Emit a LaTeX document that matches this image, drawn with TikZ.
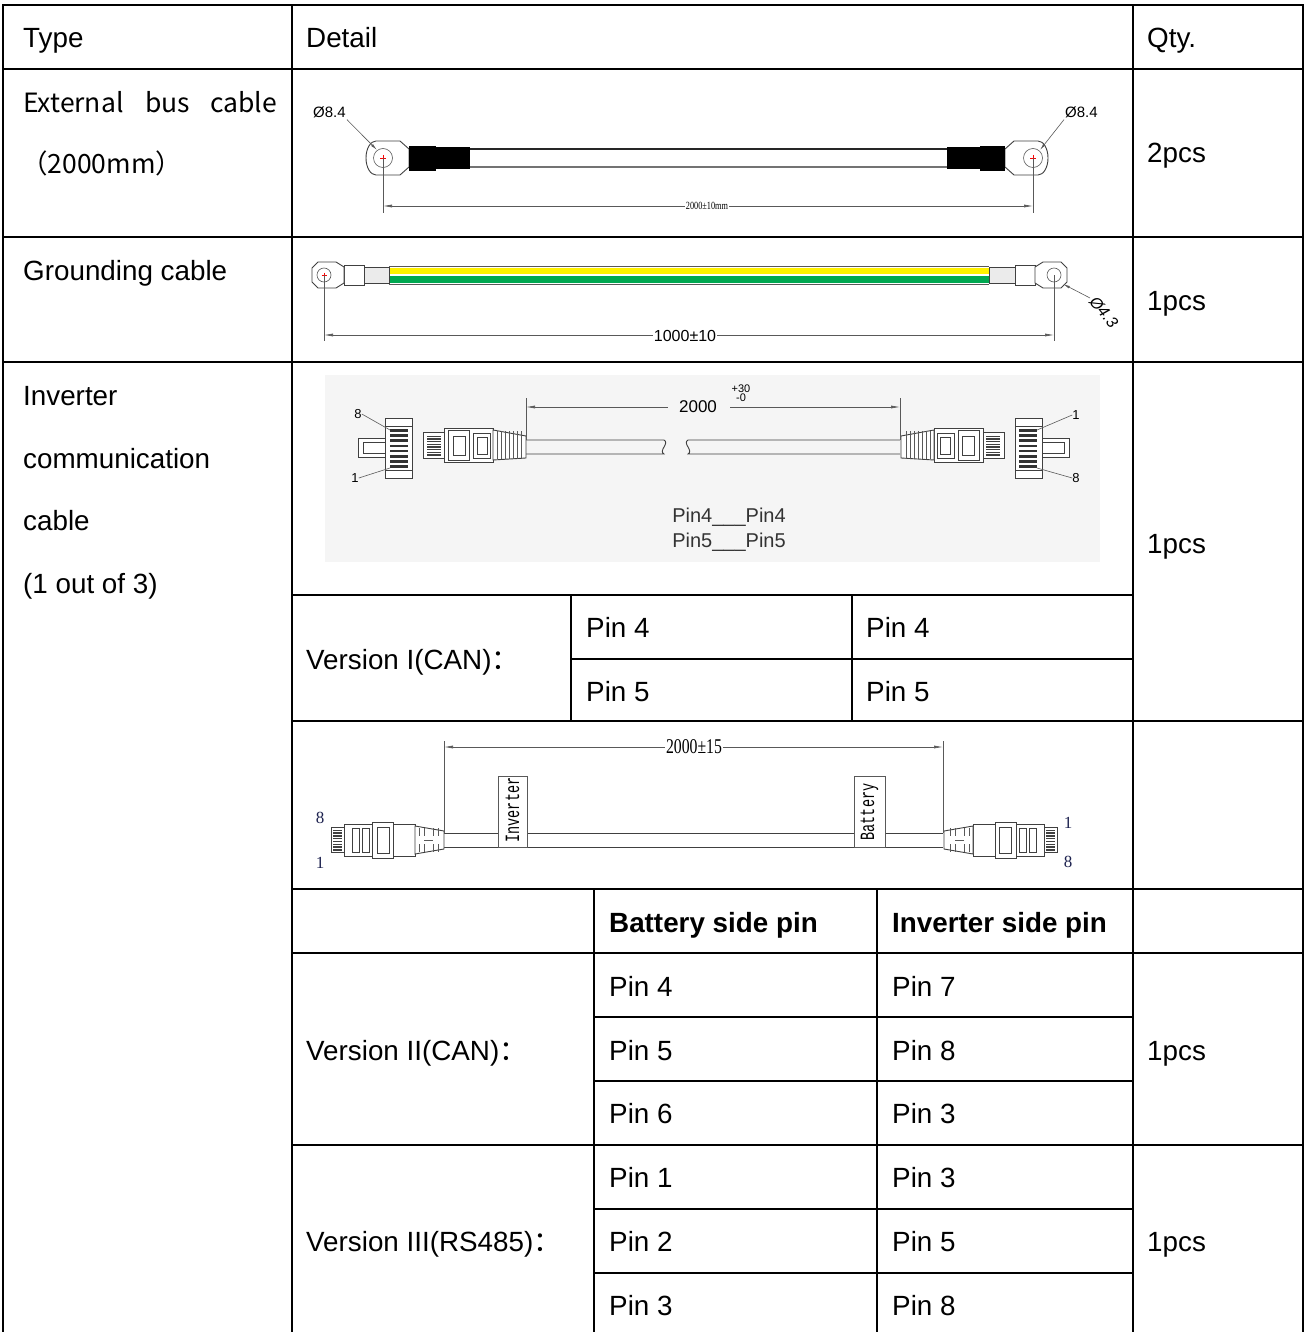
\documentclass[tikz,border=0pt]{standalone}
\usepackage{fontspec}
\setmainfont{Liberation Sans}
\newfontfamily\cjkfont{Noto Sans CJK SC}
\newfontfamily\serifc{Liberation Serif}
\newfontfamily\monof{Liberation Mono}
\usetikzlibrary{arrows.meta}
\definecolor{gyellow}{RGB}{255,242,0}
\definecolor{ggreen}{RGB}{0,168,80}
\definecolor{pinblue}{RGB}{30,35,80}
\tikzset{
  grid/.style={line width=2pt, line cap=rect},
  cell/.style={anchor=base west, inner sep=0pt, font=\fontsize{27.8}{33}\selectfont},
  cellb/.style={anchor=base west, inner sep=0pt, font=\fontsize{27.8}{33}\selectfont\bfseries},
  cjkcell/.style={anchor=base west, inner sep=0pt, font=\cjkfont\fontsize{26.5}{30}\selectfont},
  dwg/.style={draw=black!75, line width=0.9pt},
  thinl/.style={draw=black!65, line width=0.6pt},
  dimarrow/.style={thinl, {Latex[length=9pt,width=3pt]}-{Latex[length=9pt,width=3pt]}},
  leadarrow/.style={thinl, -{Latex[length=7pt,width=2.6pt]}},
  smalllab/.style={inner sep=1pt, font=\fontsize{15}{17}\selectfont},
  pinnum/.style={inner sep=0pt, text=pinblue, font=\serifc\fontsize{17}{19}\selectfont},
}
\begin{document}
\begin{tikzpicture}[x=1pt,y=-1pt]
\useasboundingbox (0,0) rectangle (1306,1332);
\fill[white] (0,0) rectangle (1306,1332);

% ================= picture 1 : external bus cable =================
\begin{scope}
  \draw[dwg, fill=white] (409,149) -- (400,141) -- (376,141)
     arc[start angle=270, end angle=90, x radius=10, y radius=17] -- (400,175) -- (409,167) -- cycle;
  \draw[dwg, fill=white] (1005,149) -- (1014,141) -- (1038,141)
     arc[start angle=270, end angle=450, x radius=10, y radius=17] -- (1014,175) -- (1005,167) -- cycle;
  \draw[thinl] (383,158) circle[radius=9.5];
  \draw[thinl] (1033,158) circle[radius=9.5];
  \draw[red, line width=0.5pt] (380,158)--(386,158) (383,155)--(383,161);
  \draw[red, line width=0.5pt] (1030,158)--(1036,158) (1033,155)--(1033,161);
  \fill[black] (409,146) rectangle (436,171);
  \fill[black] (436,147) rectangle (470,169);
  \fill[black] (947,147) rectangle (980,169);
  \fill[black] (980,146) rectangle (1005,171);
  \draw[line width=1.2pt, black!85] (470,149) -- (947,149);
  \draw[line width=1.2pt, black!55] (470,167) -- (947,167);
  \node[smalllab, anchor=base west] (d84a) at (312,118) {Ø8.4};
  \node[smalllab, anchor=base west] (d84b) at (1064,118) {Ø8.4};
  \coordinate (la) at (377,150);
  \coordinate (lb) at (1040,150);
  \draw[leadarrow] (d84a.south east) -- (la);
  \draw[leadarrow] (d84b.south west) -- (lb);
  \coordinate (e1a) at (383,158); \coordinate (e1b) at (383,213);
  \coordinate (e2a) at (1033,158); \coordinate (e2b) at (1033,213);
  \draw[thinl] (e1a) -- (e1b);
  \draw[thinl] (e2a) -- (e2b);
  \coordinate (d1a) at (383,206); \coordinate (d1b) at (1033,206);
  \draw[dimarrow] (d1a) -- (d1b);
  \node[fill=white, inner sep=1pt, xscale=0.75, font=\serifc\fontsize{11}{12}\selectfont] (dim1) at (707,206) {2000±10mm};
\end{scope}

% ================= picture 2 : grounding cable =================
\begin{scope}
  \fill[gyellow] (389,267.5) rectangle (989,274);
  \fill[ggreen] (389,276) rectangle (989,282.5);
  \draw[thinl] (389,266) -- (989,266);
  \draw[thinl] (389,284) -- (989,284);
  \draw[dwg, fill=black!8] (364,267) rectangle (389,283);
  \draw[dwg, fill=white] (344,265) rectangle (364,285);
  \draw[dwg, fill=white] (336,262) -- (318,262) -- (312,268) -- (312,282) -- (318,288) -- (336,288) -- (344,283) -- (344,267) -- cycle;
  \draw[thinl] (324,275) circle[radius=7];
  \draw[red, line width=0.5pt] (321.5,275)--(326.5,275) (324,272.5)--(324,277.5);
  \draw[dwg, fill=black!8] (989,267) rectangle (1015,283);
  \draw[dwg, fill=white] (1015,265) rectangle (1035,285);
  \draw[dwg, fill=white] (1043,262) -- (1061,262) -- (1067,268) -- (1067,282) -- (1061,288) -- (1043,288) -- (1035,283) -- (1035,267) -- cycle;
  \draw[thinl] (1054,275) circle[radius=7];
  \coordinate (g1a) at (324,275); \coordinate (g1b) at (324,341);
  \coordinate (g2a) at (1054,275); \coordinate (g2b) at (1054,341);
  \draw[thinl] (g1a) -- (g1b);
  \draw[thinl] (g2a) -- (g2b);
  \coordinate (gd1) at (324,335); \coordinate (gd2) at (1054,335);
  \draw[dimarrow] (gd1) -- (gd2);
  \node[fill=white, inner sep=1pt, font=\fontsize{16}{18}\selectfont] (dim2) at (685,336) {1000±10};
  \node[inner sep=0pt, rotate=-50, font=\itshape\fontsize{16}{18}\selectfont] (d43) at (1104,312) {Ø4.3};
  \coordinate (lc) at (1063,284);
  \coordinate (lcs) at (1090,298);
  \draw[leadarrow] (lcs) -- (lc);
\end{scope}

% ================= picture 3 : RJ45 cable (version I) =================
\begin{scope}
  \fill[black!4] (325,375) rectangle (1100,562);
  \draw[dwg] (526,440) -- (664,440) .. controls (670,443) and (658,451) .. (664,454) -- (526,454);
  \draw[dwg] (900,440) -- (688,440) .. controls (682,443) and (694,451) .. (688,454) -- (900,454);
  \foreach \sh/\sc in {0/1, 1427/-1} {
    \begin{scope}[xshift=\sh pt, xscale=\sc]
      \draw[dwg, fill=white] (358,438) rectangle (386,457);
      \draw[dwg] (363,442) rectangle (386,453);
      \draw[dwg, fill=white] (385,418) rectangle (412,478);
      \draw[dwg] (385,426) -- (412,426) (385,470) -- (412,470);
      \foreach \i in {0,...,7} \fill[black!80] (390,429+5.2*\i) rectangle (408,431.6+5.2*\i);
      \draw[dwg, fill=white] (423,432) rectangle (444,458);
      \foreach \i in {0,...,7} \fill[black!75] (427,435.5+2.7*\i) rectangle (441,436.8+2.7*\i);
      \draw[dwg, fill=white] (444,428) rectangle (493,462);
      \draw[dwg] (448,430) rectangle (469,460);
      \draw[dwg] (453,436) rectangle (465,455);
      \draw[dwg] (473,433) rectangle (490,458);
      \draw[dwg] (477,437) rectangle (487,454);
      \draw[dwg, fill=white] (493,430) -- (526,436) -- (526,458) -- (493,460) -- cycle;
      \foreach \x in {497,501,505,509,513,517,521} \draw[thinl] (\x,431) -- (\x,459);
    \end{scope}
  }
  \node[inner sep=0pt, font=\fontsize{13}{15}\selectfont] (p8a) at (358,414) {8};
  \node[inner sep=0pt, font=\fontsize{13}{15}\selectfont] (p1a) at (355,478) {1};
  \node[inner sep=0pt, font=\fontsize{13}{15}\selectfont] (p1b) at (1076,415) {1};
  \node[inner sep=0pt, font=\fontsize{13}{15}\selectfont] (p8b) at (1076,478) {8};
  \coordinate (q8a) at (390,430); \coordinate (q1a) at (390,468);
  \coordinate (q1b) at (1037,430); \coordinate (q8b) at (1037,468);
  \draw[thinl] (p8a.east) -- (q8a);
  \draw[thinl] (p1a.east) -- (q1a);
  \draw[thinl] (p1b.west) -- (q1b);
  \draw[thinl] (p8b.west) -- (q8b);
  \coordinate (r1a) at (526,398); \coordinate (r1b) at (526,440);
  \coordinate (r2a) at (900,398); \coordinate (r2b) at (900,440);
  \draw[thinl] (r1a) -- (r1b);
  \draw[thinl] (r2a) -- (r2b);
  \coordinate (rd1) at (526,407); \coordinate (rd2) at (900,407);
  \draw[dimarrow] (rd1) -- (rd2);
  \fill[black!4] (668,398) rectangle (730,416);
  \node[inner sep=0pt, font=\fontsize{17}{19}\selectfont] (dim3) at (698,407) {2000};
  \node[inner sep=0pt, font=\fontsize{11}{12}\selectfont] (tolp) at (741,389) {+30};
  \node[inner sep=0pt, font=\fontsize{11}{12}\selectfont] (tolm) at (741,398) {-0};
  \node[inner sep=0pt, text=black!80, font=\fontsize{20}{22}\selectfont] (pt1) at (729,517) {Pin4\_\_\_Pin4};
  \node[inner sep=0pt, text=black!80, font=\fontsize{20}{22}\selectfont] (pt2) at (729,542) {Pin5\_\_\_Pin5};
\end{scope}

% ================= picture 4 : RJ45 cable (version II/III) =================
\begin{scope}
  \draw[dwg] (444,833) -- (943,833);
  \draw[dwg] (444,847) -- (943,847);
  \foreach \sh/\sc in {0/1, 1388/-1} {
    \begin{scope}[xshift=\sh pt, xscale=\sc]
      \draw[dwg, fill=white] (331,827) rectangle (344,852);
      \foreach \i in {0,...,7} \fill[black!75] (333,829.5+2.8*\i) rectangle (342,831+2.8*\i);
      \draw[dwg, fill=white] (344,824) rectangle (415,856);
      \draw[dwg] (352,828) rectangle (359,852);
      \draw[dwg] (362,828) rectangle (369,852);
      \draw[dwg, fill=white] (372,822) rectangle (393,858);
      \draw[dwg] (377,827) rectangle (389,853);
      \draw[dwg, fill=white] (415,826) -- (444,831) -- (444,849) -- (415,854) -- cycle;
      \foreach \x in {419,424,433,438} {\draw[thinl] (\x,828) -- (\x,836); \draw[thinl] (\x,844) -- (\x,852);}
      \draw[thinl] (424,840) -- (433,840);
    \end{scope}
  }
  \draw[thinl, fill=white] (498,776) rectangle (527,847);
  \draw[thinl, fill=white] (854,776) rectangle (885,847);
  \node[inner sep=0pt, rotate=90, font=\monof\fontsize{13.5}{15}\selectfont] (tagi) at (512.5,810) {\scalebox{1}[1.5]{Inverter}};
  \node[inner sep=0pt, rotate=90, font=\monof\fontsize{13.5}{15}\selectfont] (tagb) at (869.5,812) {\scalebox{1}[1.5]{Battery}};
  \node[pinnum] (n8a) at (320,818) {8};
  \node[pinnum] (n1a) at (320,863) {1};
  \node[pinnum] (n1b) at (1068,823) {1};
  \node[pinnum] (n8b) at (1068,862) {8};
  \coordinate (s1a) at (444,741); \coordinate (s1b) at (444,833);
  \coordinate (s2a) at (943,741); \coordinate (s2b) at (943,833);
  \draw[thinl] (s1a) -- (s1b);
  \draw[thinl] (s2a) -- (s2b);
  \coordinate (sd1) at (444,747); \coordinate (sd2) at (943,747);
  \draw[dimarrow] (sd1) -- (sd2);
  \node[fill=white, inner sep=1pt, xscale=0.75, font=\serifc\fontsize{21}{23}\selectfont] (dim4) at (694,747) {2000±15};
\end{scope}

% ================= table grid =================
\draw[grid] (3,5) -- (1303,5);
\draw[grid] (3,5) -- (3,1332);
\draw[grid] (1303,5) -- (1303,1332);
\draw[grid] (292,5) -- (292,1332);
\draw[grid] (1133,5) -- (1133,1332);
\foreach \y in {69,237,362} \draw[grid] (3,\y) -- (1303,\y);
\foreach \y in {721,889,953,1145} \draw[grid] (292,\y) -- (1303,\y);
\draw[grid] (292,595) -- (1133,595);
\draw[grid] (571,659) -- (1133,659);
\foreach \y in {1017,1081,1209,1273} \draw[grid] (594,\y) -- (1133,\y);
\draw[grid] (571,595) -- (571,721);
\draw[grid] (852,595) -- (852,721);
\draw[grid] (594,889) -- (594,1332);
\draw[grid] (877,889) -- (877,1332);

% ================= table text =================
\node[cell] (hType) at (23,48) {Type};
\node[cell] (hDetail) at (306,48) {Detail};
\node[cell] (hQty) at (1147,48) {Qty.};

\node[cjkcell] (t1a) at (23,113) {External};
\node[cjkcell] (t1b) at (145,113) {bus};
\node[cjkcell, anchor=base east] (t1c) at (277,113) {cable};
\node[cjkcell] (t1d) at (21,174) {（2000mm）};
\node[cell] (q1) at (1147,163) {2pcs};

\node[cell] (t2) at (23,280) {Grounding cable};
\node[cell] (q2) at (1147,310) {1pcs};

\node[cell] (t3a) at (23,405) {Inverter};
\node[cell] (t3b) at (23,468) {communication};
\node[cell] (t3c) at (23,530) {cable};
\node[cell] (t3d) at (23,593) {(1 out of 3)};
\node[cell] (q3) at (1147,553) {1pcs};

\node[cell] (v1) at (306,669) {Version I(CAN){\cjkfont ：}};
\node[cell] (v1a) at (586,637) {Pin 4};
\node[cell] (v1b) at (866,637) {Pin 4};
\node[cell] (v1c) at (586,701) {Pin 5};
\node[cell] (v1d) at (866,701) {Pin 5};

\node[cellb] (hb) at (609,932) {Battery side pin};
\node[cellb] (hi) at (892,932) {Inverter side pin};

\node[cell] (v2) at (306,1060) {Version II(CAN){\cjkfont ：}};
\node[cell] (v2a) at (609,996) {Pin 4};
\node[cell] (v2b) at (892,996) {Pin 7};
\node[cell] (v2c) at (609,1060) {Pin 5};
\node[cell] (v2d) at (892,1060) {Pin 8};
\node[cell] (v2e) at (609,1123) {Pin 6};
\node[cell] (v2f) at (892,1123) {Pin 3};
\node[cell] (q4) at (1147,1060) {1pcs};

\node[cell] (v3) at (306,1251) {Version III(RS485){\cjkfont ：}};
\node[cell] (v3a) at (609,1187) {Pin 1};
\node[cell] (v3b) at (892,1187) {Pin 3};
\node[cell] (v3c) at (609,1251) {Pin 2};
\node[cell] (v3d) at (892,1251) {Pin 5};
\node[cell] (v3e) at (609,1315) {Pin 3};
\node[cell] (v3f) at (892,1315) {Pin 8};
\node[cell] (q5) at (1147,1251) {1pcs};
\end{tikzpicture}
\end{document}
